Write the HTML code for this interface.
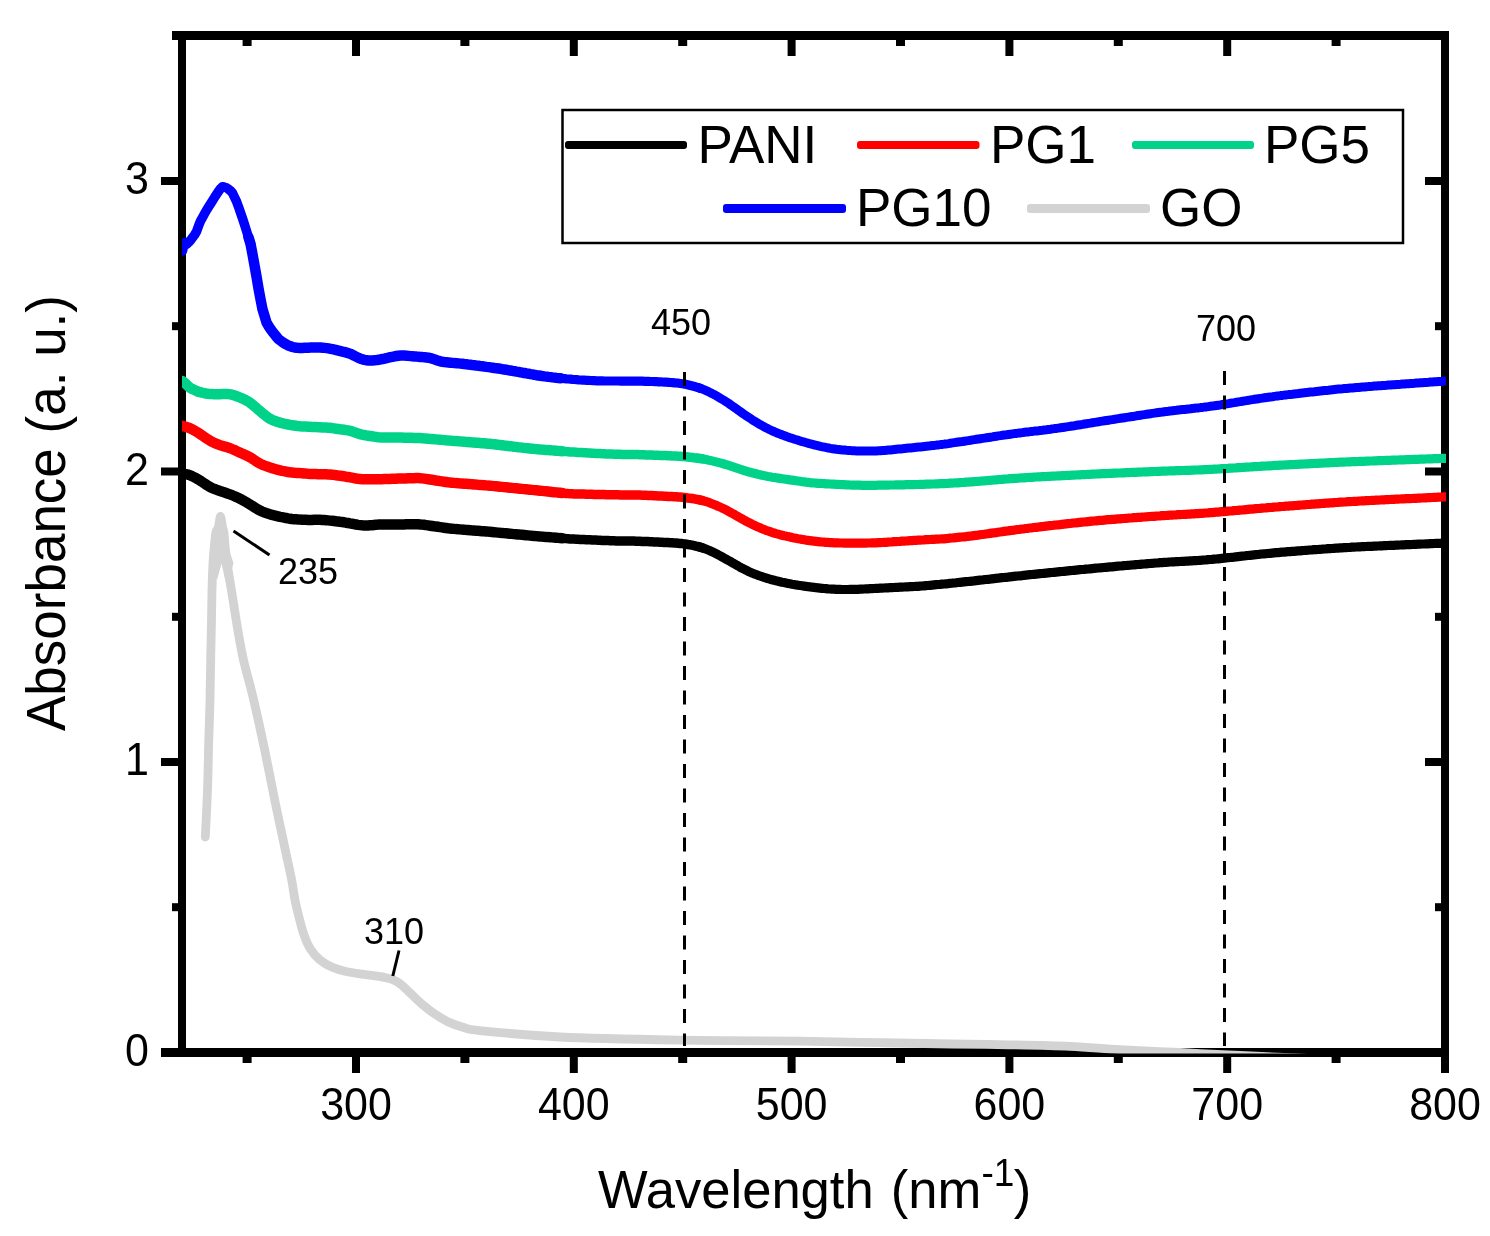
<!DOCTYPE html>
<html><head><meta charset="utf-8"><style>
html,body{margin:0;padding:0;background:#fff;}
svg{display:block;will-change:transform;}
text{font-family:"Liberation Sans",sans-serif;fill:#000;}
</style></head><body>
<svg width="1490" height="1236" viewBox="0 0 1490 1236">
<rect x="0" y="0" width="1490" height="1236" fill="#fff"/>
<defs><clipPath id="pc"><rect x="182" y="35.5" width="1264" height="1018"/></clipPath></defs>

<g fill="#000">
<rect x="172" y="31" width="1277" height="9"/>
<rect x="178" y="31" width="8" height="1026"/>
<rect x="161" y="1048" width="1288" height="9"/>
<rect x="1441" y="31" width="8" height="1042"/>
<rect x="161" y="758.0" width="17" height="8"/>
<rect x="1425" y="758.0" width="16" height="8"/>
<rect x="161" y="467.5" width="17" height="8"/>
<rect x="1425" y="467.5" width="16" height="8"/>
<rect x="161" y="177.0" width="17" height="8"/>
<rect x="1425" y="177.0" width="16" height="8"/>
<rect x="172" y="903.2" width="6" height="8"/>
<rect x="1435" y="903.2" width="6" height="8"/>
<rect x="172" y="612.8" width="6" height="8"/>
<rect x="1435" y="612.8" width="6" height="8"/>
<rect x="172" y="322.2" width="6" height="8"/>
<rect x="1435" y="322.2" width="6" height="8"/>
<rect x="352.0" y="1057" width="8" height="16"/>
<rect x="352.0" y="40" width="8" height="16"/>
<rect x="569.8" y="1057" width="8" height="16"/>
<rect x="569.8" y="40" width="8" height="16"/>
<rect x="787.6" y="1057" width="8" height="16"/>
<rect x="787.6" y="40" width="8" height="16"/>
<rect x="1005.4" y="1057" width="8" height="16"/>
<rect x="1005.4" y="40" width="8" height="16"/>
<rect x="1223.2" y="1057" width="8" height="16"/>
<rect x="1223.2" y="40" width="8" height="16"/>
<rect x="242.6" y="1057" width="9" height="6"/>
<rect x="242.6" y="40" width="9" height="6"/>
<rect x="460.4" y="1057" width="9" height="6"/>
<rect x="460.4" y="40" width="9" height="6"/>
<rect x="678.2" y="1057" width="9" height="6"/>
<rect x="678.2" y="40" width="9" height="6"/>
<rect x="896.0" y="1057" width="9" height="6"/>
<rect x="896.0" y="40" width="9" height="6"/>
<rect x="1113.8" y="1057" width="9" height="6"/>
<rect x="1113.8" y="40" width="9" height="6"/>
<rect x="1331.6" y="1057" width="9" height="6"/>
<rect x="1331.6" y="40" width="9" height="6"/>
</g>
<g clip-path="url(#pc)" fill="none" stroke-width="8.5" stroke-linejoin="round" stroke-linecap="round">
<path stroke="#d3d3d3" stroke-width="8.8" d="M205.3,837.0 C205.7,829.2 206.9,805.8 207.5,790.0 C208.1,774.2 208.3,757.0 208.7,742.0 C209.1,727.0 209.7,713.7 210.0,700.0 C210.3,686.3 210.4,673.3 210.7,660.0 C210.9,646.7 211.3,631.7 211.5,620.0 C211.7,608.3 211.8,599.5 212.0,590.0 C212.2,580.5 212.6,570.5 213.0,563.0 C213.4,555.5 214.0,550.2 214.5,545.0 C215.0,539.8 215.3,535.0 216.0,532.0 C216.7,529.0 217.8,529.6 218.5,527.0 C219.2,524.4 219.8,516.5 220.5,516.5 C221.2,516.5 221.9,524.2 222.5,527.0 C223.1,529.8 223.6,530.0 224.0,533.0 C224.4,536.0 224.5,540.0 225.0,545.0 C225.5,550.0 225.9,555.4 227.0,563.0 C228.1,570.6 229.7,579.5 231.5,590.5 C233.3,601.5 235.7,617.7 237.7,629.3 C239.7,640.9 240.8,648.2 243.5,660.0 C246.2,671.8 250.2,685.0 253.7,700.0 C257.2,715.0 261.2,733.3 264.7,750.0 C268.2,766.7 271.3,783.3 274.7,800.0 C278.1,816.7 282.5,836.7 285.3,850.0 C288.1,863.3 290.1,871.6 291.7,880.0 C293.3,888.4 293.8,894.2 295.1,900.6 C296.4,907.0 297.8,912.8 299.3,918.5 C300.8,924.2 302.2,930.0 304.0,935.0 C305.8,940.0 307.7,944.7 310.3,948.8 C312.9,952.9 316.2,956.7 319.9,959.8 C323.6,962.9 327.9,965.3 332.3,967.3 C336.7,969.2 341.0,970.4 346.0,971.5 C351.0,972.6 357.0,973.4 362.5,974.2 C368.0,975.0 373.9,975.4 379.0,976.3 C384.1,977.2 389.1,978.3 392.8,979.7 C396.5,981.1 398.0,982.2 401.0,984.5 C404.0,986.8 407.2,990.3 410.7,993.5 C414.1,996.7 417.8,1000.5 421.7,1003.8 C425.6,1007.1 429.6,1010.4 434.0,1013.4 C438.4,1016.4 443.0,1019.4 447.8,1021.7 C452.6,1024.0 457.6,1025.7 463.0,1027.2 C468.4,1028.7 463.8,1029.0 480.0,1030.6 C496.2,1032.2 526.7,1035.4 560.0,1037.0 C593.3,1038.6 640.0,1039.4 680.0,1040.1 C720.0,1040.8 766.7,1040.8 800.0,1041.2 C833.3,1041.6 854.6,1042.2 880.0,1042.7 C905.4,1043.2 931.0,1043.7 952.5,1044.0 C974.0,1044.3 989.3,1044.4 1008.9,1044.8 C1028.5,1045.2 1051.5,1045.6 1070.0,1046.4 C1088.5,1047.2 1101.7,1048.6 1120.0,1049.6 C1138.3,1050.6 1160.0,1051.5 1180.0,1052.5 C1200.0,1053.5 1220.3,1054.6 1240.0,1055.5 C1259.7,1056.4 1263.7,1056.6 1298.0,1058.0 C1332.3,1059.4 1421.3,1063.0 1446.0,1064.0"/>
<polygon fill="#d3d3d3" stroke="none" points="212.5,530 227.3,530 229,550 233.5,563 227,588 221.5,563.4 217,580 209.2,563 210.3,545"/>
<polyline stroke="#000000" stroke-width="10.5" points="182.0,473.5 184.0,473.8 186.0,474.2 188.0,474.6 190.0,475.2 192.0,476.1 194.0,477.1 196.0,478.2 198.0,479.3 200.0,480.5 202.0,481.8 204.0,483.2 206.0,484.5 208.0,485.8 210.0,487.0 212.0,488.0 214.0,488.8 216.0,489.5 218.0,490.3 220.0,491.0 222.0,491.6 224.0,492.3 226.0,493.0 228.0,493.7 230.0,494.4 232.0,495.2 234.0,496.0 236.0,496.9 238.0,497.8 240.0,498.8 242.0,499.8 244.0,500.9 246.0,502.1 248.0,503.3 250.0,504.5 252.0,505.7 254.0,507.0 256.0,508.3 258.0,509.5 260.0,510.5 262.0,511.5 264.0,512.3 266.0,513.0 268.0,513.6 270.0,514.3 272.0,514.8 274.0,515.3 276.0,515.8 278.0,516.3 280.0,516.8 282.0,517.2 284.0,517.6 286.0,518.0 288.0,518.4 290.0,518.7 292.0,519.0 294.0,519.2 296.0,519.3 298.0,519.4 300.0,519.6 302.0,519.7 304.0,519.8 306.0,519.8 308.0,519.9 310.0,519.9 312.0,519.9 314.0,519.8 316.0,519.8 318.0,519.7 320.0,519.8 322.0,519.9 324.0,520.0 326.0,520.2 328.0,520.4 330.0,520.6 332.0,520.8 334.0,521.0 336.0,521.3 338.0,521.5 340.0,521.8 342.0,522.0 344.0,522.3 346.0,522.7 348.0,523.0 350.0,523.4 352.0,523.7 354.0,524.1 356.0,524.5 358.0,524.9 360.0,525.1 362.0,525.3 364.0,525.4 366.0,525.4 368.0,525.4 370.0,525.3 372.0,525.2 374.0,525.0 376.0,524.8 378.0,524.6 380.0,524.5 382.0,524.4 384.0,524.4 386.0,524.4 388.0,524.4 390.0,524.4 392.0,524.4 394.0,524.4 396.0,524.4 398.0,524.4 400.0,524.4 402.0,524.4 404.0,524.4 406.0,524.3 408.0,524.3 410.0,524.3 412.0,524.3 414.0,524.3 416.0,524.3 418.0,524.3 420.0,524.4 422.0,524.6 424.0,524.8 426.0,525.1 428.0,525.4 430.0,525.7 432.0,526.0 434.0,526.3 436.0,526.5 438.0,526.8 440.0,527.1 442.0,527.4 444.0,527.7 446.0,528.0 448.0,528.3 450.0,528.5 452.0,528.7 454.0,528.9 456.0,529.1 458.0,529.2 460.0,529.4 462.0,529.6 464.0,529.7 466.0,529.9 468.0,530.0 470.0,530.2 472.0,530.4 474.0,530.5 476.0,530.7 478.0,530.8 480.0,531.0 482.0,531.2 484.0,531.3 486.0,531.5 488.0,531.6 490.0,531.8 492.0,532.0 494.0,532.2 496.0,532.4 498.0,532.6 500.0,532.8 502.0,532.9 504.0,533.1 506.0,533.3 508.0,533.5 510.0,533.7 512.0,533.9 514.0,534.1 516.0,534.3 518.0,534.5 520.0,534.6 522.0,534.8 524.0,535.0 526.0,535.2 528.0,535.4 530.0,535.6 532.0,535.8 534.0,535.9 536.0,536.1 538.0,536.3 540.0,536.4 542.0,536.6 544.0,536.8 546.0,536.9 548.0,537.1 550.0,537.2 552.0,537.4 554.0,537.6 556.0,537.7 558.0,537.9 560.0,538.1 562.0,538.2"/>
<polyline stroke="#000000" stroke-width="9.5" points="558.0,537.9 560.0,538.1 562.0,538.2 564.0,538.4 566.0,538.6 568.0,538.7 570.0,538.9 572.0,539.0 574.0,539.1 576.0,539.2 578.0,539.3 580.0,539.4 582.0,539.5 584.0,539.6 586.0,539.7 588.0,539.8 590.0,539.8 592.0,539.9 594.0,540.0 596.0,540.1 598.0,540.2 600.0,540.3 602.0,540.4 604.0,540.5 606.0,540.6 608.0,540.6 610.0,540.7 612.0,540.8 614.0,540.8 616.0,540.9 618.0,540.9 620.0,540.9 622.0,541.0 624.0,541.0 626.0,541.0 628.0,541.0 630.0,541.1 632.0,541.1 634.0,541.1 636.0,541.2 638.0,541.2 640.0,541.3 642.0,541.4 644.0,541.4 646.0,541.5 648.0,541.6 650.0,541.7 652.0,541.8 654.0,541.9 656.0,542.0 658.0,542.1 660.0,542.2 662.0,542.3 664.0,542.4 666.0,542.5 668.0,542.6 670.0,542.7 672.0,542.8 674.0,542.9 676.0,543.0 678.0,543.2 680.0,543.4 682.0,543.6 684.0,543.9 686.0,544.1 688.0,544.5 690.0,544.8 692.0,545.2 694.0,545.6 696.0,546.1 698.0,546.5 700.0,547.1 702.0,547.7"/>
<polyline stroke="#000000" stroke-width="9.2" points="698.0,546.5 700.0,547.1 702.0,547.7 704.0,548.4 706.0,549.1 708.0,549.9 710.0,550.8 712.0,551.7 714.0,552.7 716.0,553.7 718.0,554.7 720.0,555.8 722.0,556.9 724.0,558.0 726.0,559.1 728.0,560.2 730.0,561.3 732.0,562.5 734.0,563.6 736.0,564.8 738.0,565.9 740.0,567.1 742.0,568.2 744.0,569.2 746.0,570.2 748.0,571.2 750.0,572.1 752.0,573.0 754.0,573.8 756.0,574.5 758.0,575.3 760.0,576.0 762.0,576.7 764.0,577.3 766.0,578.0 768.0,578.6 770.0,579.2 772.0,579.7 774.0,580.2 776.0,580.8 778.0,581.2 780.0,581.7 782.0,582.2 784.0,582.6 786.0,583.0 788.0,583.4 790.0,583.8 792.0,584.2 794.0,584.5 796.0,584.9 798.0,585.2 800.0,585.5 802.0,585.8 804.0,586.1 806.0,586.4 808.0,586.7 810.0,586.9 812.0,587.2 814.0,587.4 816.0,587.7 818.0,587.9 820.0,588.1 822.0,588.3 824.0,588.5 826.0,588.7 828.0,588.9 830.0,589.0 832.0,589.1 834.0,589.2 836.0,589.3 838.0,589.4 840.0,589.4 842.0,589.5 844.0,589.5 846.0,589.5 848.0,589.5 850.0,589.4 852.0,589.4 854.0,589.4 856.0,589.3 858.0,589.3 860.0,589.2 862.0,589.1 864.0,589.0 866.0,588.9 868.0,588.8 870.0,588.7 872.0,588.6 874.0,588.5 876.0,588.4 878.0,588.3 880.0,588.2 882.0,588.1 884.0,588.0 886.0,587.9 888.0,587.8 890.0,587.7 892.0,587.6 894.0,587.5 896.0,587.4 898.0,587.3 900.0,587.2 902.0,587.1 904.0,587.0 906.0,586.9 908.0,586.8 910.0,586.7 912.0,586.6 914.0,586.5 916.0,586.4 918.0,586.3 920.0,586.1 922.0,586.0 924.0,585.8 926.0,585.6 928.0,585.5 930.0,585.3 932.0,585.1 934.0,584.9 936.0,584.7 938.0,584.5 940.0,584.4 942.0,584.2 944.0,584.0 946.0,583.8 948.0,583.6 950.0,583.3 952.0,583.2 954.0,583.0 956.0,582.8 958.0,582.5 960.0,582.3 962.0,582.1 964.0,581.9 966.0,581.7 968.0,581.5 970.0,581.3 972.0,581.1 974.0,580.9 976.0,580.6 978.0,580.4 980.0,580.2 982.0,580.0 984.0,579.7 986.0,579.5 988.0,579.3 990.0,579.1 992.0,578.8 994.0,578.6 996.0,578.4 998.0,578.2 1000.0,577.9 1002.0,577.7 1004.0,577.5 1006.0,577.3 1008.0,577.1 1010.0,576.8 1012.0,576.6 1014.0,576.4 1016.0,576.2 1018.0,576.0 1020.0,575.8 1022.0,575.6 1024.0,575.3 1026.0,575.1 1028.0,574.9 1030.0,574.7 1032.0,574.5 1034.0,574.3 1036.0,574.1 1038.0,573.9 1040.0,573.7 1042.0,573.5 1044.0,573.3 1046.0,573.1 1048.0,572.9 1050.0,572.7 1052.0,572.5 1054.0,572.3 1056.0,572.1 1058.0,571.9 1060.0,571.7 1062.0,571.5 1064.0,571.3 1066.0,571.1 1068.0,570.9 1070.0,570.7 1072.0,570.5 1074.0,570.3 1076.0,570.1 1078.0,569.9 1080.0,569.7 1082.0,569.5 1084.0,569.4 1086.0,569.2 1088.0,569.0 1090.0,568.8 1092.0,568.6 1094.0,568.4 1096.0,568.2 1098.0,568.0 1100.0,567.8 1102.0,567.7 1104.0,567.5 1106.0,567.3 1108.0,567.1 1110.0,566.9 1112.0,566.8 1114.0,566.6 1116.0,566.4 1118.0,566.2 1120.0,566.0 1122.0,565.9 1124.0,565.7 1126.0,565.5 1128.0,565.3 1130.0,565.2 1132.0,565.0 1134.0,564.8 1136.0,564.6 1138.0,564.5 1140.0,564.3 1142.0,564.1 1144.0,564.0 1146.0,563.8 1148.0,563.6 1150.0,563.5 1152.0,563.3 1154.0,563.2 1156.0,563.0 1158.0,562.9 1160.0,562.7 1162.0,562.6 1164.0,562.4 1166.0,562.3 1168.0,562.2 1170.0,562.0 1172.0,561.9 1174.0,561.8 1176.0,561.7 1178.0,561.6 1180.0,561.5 1182.0,561.4 1184.0,561.3 1186.0,561.2 1188.0,561.1 1190.0,560.9 1192.0,560.8 1194.0,560.7 1196.0,560.6 1198.0,560.5 1200.0,560.3 1202.0,560.2 1204.0,560.0 1206.0,559.9 1208.0,559.7 1210.0,559.5 1212.0,559.4 1214.0,559.2 1216.0,559.0 1218.0,558.8 1220.0,558.6 1222.0,558.4 1224.0,558.2 1226.0,557.9 1228.0,557.7 1230.0,557.5 1232.0,557.3 1234.0,557.1 1236.0,556.8 1238.0,556.6 1240.0,556.4 1242.0,556.2 1244.0,556.0 1246.0,555.7 1248.0,555.5 1250.0,555.3 1252.0,555.1 1254.0,554.9 1256.0,554.7 1258.0,554.5 1260.0,554.2 1262.0,554.0 1264.0,553.8 1266.0,553.7 1268.0,553.5 1270.0,553.3 1272.0,553.1 1274.0,552.9 1276.0,552.7 1278.0,552.6 1280.0,552.4 1282.0,552.2 1284.0,552.1 1286.0,551.9 1288.0,551.7 1290.0,551.6 1292.0,551.4 1294.0,551.3 1296.0,551.1 1298.0,550.9 1300.0,550.8 1302.0,550.6 1304.0,550.5 1306.0,550.3 1308.0,550.2 1310.0,550.0 1312.0,549.9 1314.0,549.7 1316.0,549.6 1318.0,549.5 1320.0,549.3 1322.0,549.2 1324.0,549.0 1326.0,548.9 1328.0,548.7 1330.0,548.6 1332.0,548.5 1334.0,548.3 1336.0,548.2 1338.0,548.1 1340.0,547.9 1342.0,547.8 1344.0,547.7 1346.0,547.6 1348.0,547.5 1350.0,547.4 1352.0,547.2 1354.0,547.1 1356.0,547.0 1358.0,546.9 1360.0,546.8 1362.0,546.7 1364.0,546.6 1366.0,546.5 1368.0,546.4 1370.0,546.3 1372.0,546.3 1374.0,546.2 1376.0,546.1 1378.0,546.0 1380.0,545.9 1382.0,545.8 1384.0,545.7 1386.0,545.6 1388.0,545.5 1390.0,545.4 1392.0,545.4 1394.0,545.3 1396.0,545.2 1398.0,545.1 1400.0,545.0 1402.0,544.9 1404.0,544.8 1406.0,544.7 1408.0,544.7 1410.0,544.6 1412.0,544.5 1414.0,544.4 1416.0,544.3 1418.0,544.2 1420.0,544.1 1422.0,544.0 1424.0,544.0 1426.0,543.9 1428.0,543.8 1430.0,543.7 1432.0,543.6 1434.0,543.5 1436.0,543.4 1438.0,543.3 1440.0,543.3 1442.0,543.2 1444.0,543.1 1446.0,543.0"/>
<polyline stroke="#ff0000" stroke-width="10.5" points="182.0,426.0 184.0,426.4 186.0,426.9 188.0,427.5 190.0,428.2 192.0,429.2 194.0,430.3 196.0,431.5 198.0,432.6 200.0,434.0 202.0,435.3 204.0,436.7 206.0,438.1 208.0,439.4 210.0,440.7 212.0,441.8 214.0,442.7 216.0,443.6 218.0,444.4 220.0,445.2 222.0,445.8 224.0,446.4 226.0,446.9 228.0,447.5 230.0,448.2 232.0,449.0 234.0,449.8 236.0,450.8 238.0,451.7 240.0,452.6 242.0,453.5 244.0,454.4 246.0,455.3 248.0,456.3 250.0,457.3 252.0,458.5 254.0,459.8 256.0,461.2 258.0,462.4 260.0,463.6 262.0,464.6 264.0,465.4 266.0,466.1 268.0,466.8 270.0,467.5 272.0,468.1 274.0,468.7 276.0,469.3 278.0,469.8 280.0,470.3 282.0,470.8 284.0,471.2 286.0,471.6 288.0,472.0 290.0,472.3 292.0,472.6 294.0,472.7 296.0,472.9 298.0,473.0 300.0,473.1 302.0,473.3 304.0,473.5 306.0,473.6 308.0,473.8 310.0,473.9 312.0,474.0 314.0,474.1 316.0,474.1 318.0,474.2 320.0,474.2 322.0,474.2 324.0,474.3 326.0,474.3 328.0,474.4 330.0,474.5 332.0,474.7 334.0,474.9 336.0,475.2 338.0,475.5 340.0,475.7 342.0,476.0 344.0,476.3 346.0,476.7 348.0,477.0 350.0,477.3 352.0,477.7 354.0,478.1 356.0,478.5 358.0,478.8 360.0,479.1 362.0,479.2 364.0,479.3 366.0,479.3 368.0,479.3 370.0,479.3 372.0,479.3 374.0,479.3 376.0,479.3 378.0,479.3 380.0,479.3 382.0,479.2 384.0,479.1 386.0,479.1 388.0,479.0 390.0,478.9 392.0,478.8 394.0,478.7 396.0,478.7 398.0,478.6 400.0,478.5 402.0,478.5 404.0,478.4 406.0,478.4 408.0,478.3 410.0,478.3 412.0,478.2 414.0,478.2 416.0,478.1 418.0,478.1 420.0,478.2 422.0,478.4 424.0,478.6 426.0,478.9 428.0,479.2 430.0,479.5 432.0,479.8 434.0,480.1 436.0,480.5 438.0,480.8 440.0,481.1 442.0,481.4 444.0,481.7 446.0,482.0 448.0,482.3 450.0,482.5 452.0,482.7 454.0,482.9 456.0,483.1 458.0,483.2 460.0,483.4 462.0,483.5 464.0,483.7 466.0,483.8 468.0,484.0 470.0,484.1 472.0,484.3 474.0,484.5 476.0,484.6 478.0,484.8 480.0,484.9 482.0,485.1 484.0,485.2 486.0,485.4 488.0,485.6 490.0,485.7 492.0,485.9 494.0,486.1 496.0,486.3 498.0,486.5 500.0,486.7 502.0,486.9 504.0,487.1 506.0,487.3 508.0,487.5 510.0,487.7 512.0,487.9 514.0,488.1 516.0,488.3 518.0,488.5 520.0,488.7 522.0,488.9 524.0,489.1 526.0,489.3 528.0,489.5 530.0,489.7 532.0,489.9 534.0,490.1 536.0,490.3 538.0,490.5 540.0,490.7 542.0,490.9 544.0,491.1 546.0,491.3 548.0,491.5 550.0,491.7 552.0,492.0 554.0,492.2 556.0,492.4 558.0,492.6 560.0,492.8 562.0,493.0"/>
<polyline stroke="#ff0000" stroke-width="9.5" points="558.0,492.6 560.0,492.8 562.0,493.0 564.0,493.2 566.0,493.4 568.0,493.6 570.0,493.7 572.0,493.8 574.0,493.9 576.0,493.9 578.0,494.0 580.0,494.0 582.0,494.1 584.0,494.1 586.0,494.2 588.0,494.2 590.0,494.3 592.0,494.3 594.0,494.4 596.0,494.4 598.0,494.5 600.0,494.5 602.0,494.6 604.0,494.6 606.0,494.7 608.0,494.7 610.0,494.7 612.0,494.8 614.0,494.8 616.0,494.8 618.0,494.8 620.0,494.9 622.0,494.9 624.0,494.9 626.0,494.9 628.0,494.9 630.0,494.9 632.0,495.0 634.0,495.0 636.0,495.0 638.0,495.1 640.0,495.1 642.0,495.2 644.0,495.2 646.0,495.3 648.0,495.4 650.0,495.5 652.0,495.6 654.0,495.7 656.0,495.8 658.0,495.9 660.0,496.0 662.0,496.1 664.0,496.2 666.0,496.3 668.0,496.4 670.0,496.5 672.0,496.6 674.0,496.7 676.0,496.8 678.0,497.0 680.0,497.1 682.0,497.3 684.0,497.5 686.0,497.7 688.0,498.0 690.0,498.2 692.0,498.5 694.0,498.8 696.0,499.2 698.0,499.5 700.0,500.0 702.0,500.4"/>
<polyline stroke="#ff0000" stroke-width="9.2" points="698.0,499.5 700.0,500.0 702.0,500.4 704.0,501.0 706.0,501.5 708.0,502.2 710.0,502.9 712.0,503.7 714.0,504.5 716.0,505.3 718.0,506.2 720.0,507.0 722.0,508.0 724.0,508.9 726.0,509.9 728.0,511.0 730.0,512.1 732.0,513.2 734.0,514.3 736.0,515.5 738.0,516.6 740.0,517.8 742.0,518.9 744.0,520.0 746.0,521.1 748.0,522.2 750.0,523.2 752.0,524.2 754.0,525.1 756.0,526.1 758.0,527.0 760.0,527.8 762.0,528.7 764.0,529.5 766.0,530.3 768.0,531.0 770.0,531.7 772.0,532.4 774.0,533.0 776.0,533.6 778.0,534.1 780.0,534.7 782.0,535.2 784.0,535.7 786.0,536.1 788.0,536.6 790.0,537.0 792.0,537.5 794.0,537.9 796.0,538.3 798.0,538.7 800.0,539.0 802.0,539.4 804.0,539.7 806.0,540.1 808.0,540.4 810.0,540.7 812.0,540.9 814.0,541.2 816.0,541.4 818.0,541.6 820.0,541.8 822.0,542.0 824.0,542.1 826.0,542.3 828.0,542.4 830.0,542.6 832.0,542.7 834.0,542.8 836.0,542.9 838.0,542.9 840.0,543.0 842.0,543.0 844.0,543.1 846.0,543.1 848.0,543.1 850.0,543.2 852.0,543.2 854.0,543.2 856.0,543.2 858.0,543.2 860.0,543.2 862.0,543.1 864.0,543.1 866.0,543.1 868.0,543.0 870.0,543.0 872.0,542.9 874.0,542.9 876.0,542.8 878.0,542.7 880.0,542.6 882.0,542.5 884.0,542.4 886.0,542.3 888.0,542.1 890.0,542.0 892.0,541.9 894.0,541.7 896.0,541.6 898.0,541.5 900.0,541.4 902.0,541.2 904.0,541.1 906.0,541.0 908.0,540.8 910.0,540.7 912.0,540.6 914.0,540.4 916.0,540.3 918.0,540.2 920.0,540.1 922.0,540.0 924.0,539.9 926.0,539.7 928.0,539.6 930.0,539.5 932.0,539.4 934.0,539.3 936.0,539.2 938.0,539.1 940.0,539.0 942.0,538.9 944.0,538.8 946.0,538.6 948.0,538.5 950.0,538.1 952.0,538.0 954.0,537.8 956.0,537.6 958.0,537.4 960.0,537.2 962.0,537.0 964.0,536.8 966.0,536.6 968.0,536.3 970.0,536.1 972.0,535.9 974.0,535.6 976.0,535.3 978.0,535.1 980.0,534.8 982.0,534.5 984.0,534.3 986.0,534.0 988.0,533.7 990.0,533.4 992.0,533.1 994.0,532.8 996.0,532.6 998.0,532.3 1000.0,532.0 1002.0,531.7 1004.0,531.4 1006.0,531.1 1008.0,530.9 1010.0,530.6 1012.0,530.3 1014.0,530.1 1016.0,529.8 1018.0,529.5 1020.0,529.3 1022.0,529.0 1024.0,528.8 1026.0,528.5 1028.0,528.3 1030.0,528.0 1032.0,527.8 1034.0,527.5 1036.0,527.3 1038.0,527.1 1040.0,526.8 1042.0,526.6 1044.0,526.4 1046.0,526.1 1048.0,525.9 1050.0,525.7 1052.0,525.5 1054.0,525.2 1056.0,525.0 1058.0,524.8 1060.0,524.6 1062.0,524.3 1064.0,524.1 1066.0,523.9 1068.0,523.7 1070.0,523.5 1072.0,523.2 1074.0,523.0 1076.0,522.8 1078.0,522.6 1080.0,522.4 1082.0,522.2 1084.0,522.0 1086.0,521.8 1088.0,521.6 1090.0,521.4 1092.0,521.2 1094.0,521.0 1096.0,520.8 1098.0,520.6 1100.0,520.4 1102.0,520.3 1104.0,520.1 1106.0,519.9 1108.0,519.7 1110.0,519.6 1112.0,519.4 1114.0,519.3 1116.0,519.1 1118.0,518.9 1120.0,518.8 1122.0,518.6 1124.0,518.5 1126.0,518.3 1128.0,518.2 1130.0,518.0 1132.0,517.9 1134.0,517.7 1136.0,517.6 1138.0,517.4 1140.0,517.3 1142.0,517.1 1144.0,517.0 1146.0,516.8 1148.0,516.7 1150.0,516.5 1152.0,516.4 1154.0,516.3 1156.0,516.1 1158.0,516.0 1160.0,515.9 1162.0,515.7 1164.0,515.6 1166.0,515.5 1168.0,515.3 1170.0,515.2 1172.0,515.1 1174.0,515.0 1176.0,514.9 1178.0,514.7 1180.0,514.6 1182.0,514.5 1184.0,514.4 1186.0,514.3 1188.0,514.2 1190.0,514.1 1192.0,513.9 1194.0,513.8 1196.0,513.7 1198.0,513.6 1200.0,513.4 1202.0,513.3 1204.0,513.2 1206.0,513.0 1208.0,512.9 1210.0,512.7 1212.0,512.6 1214.0,512.4 1216.0,512.2 1218.0,512.1 1220.0,511.9 1222.0,511.7 1224.0,511.6 1226.0,511.4 1228.0,511.2 1230.0,511.0 1232.0,510.9 1234.0,510.7 1236.0,510.5 1238.0,510.3 1240.0,510.1 1242.0,510.0 1244.0,509.8 1246.0,509.6 1248.0,509.4 1250.0,509.2 1252.0,509.1 1254.0,508.9 1256.0,508.7 1258.0,508.5 1260.0,508.4 1262.0,508.2 1264.0,508.0 1266.0,507.9 1268.0,507.7 1270.0,507.5 1272.0,507.4 1274.0,507.2 1276.0,507.0 1278.0,506.9 1280.0,506.7 1282.0,506.5 1284.0,506.4 1286.0,506.2 1288.0,506.1 1290.0,505.9 1292.0,505.8 1294.0,505.6 1296.0,505.5 1298.0,505.3 1300.0,505.1 1302.0,505.0 1304.0,504.8 1306.0,504.7 1308.0,504.5 1310.0,504.4 1312.0,504.2 1314.0,504.1 1316.0,503.9 1318.0,503.8 1320.0,503.6 1322.0,503.5 1324.0,503.3 1326.0,503.2 1328.0,503.1 1330.0,502.9 1332.0,502.8 1334.0,502.6 1336.0,502.5 1338.0,502.4 1340.0,502.2 1342.0,502.1 1344.0,502.0 1346.0,501.9 1348.0,501.7 1350.0,501.6 1352.0,501.5 1354.0,501.4 1356.0,501.3 1358.0,501.2 1360.0,501.0 1362.0,500.9 1364.0,500.8 1366.0,500.7 1368.0,500.6 1370.0,500.5 1372.0,500.4 1374.0,500.3 1376.0,500.2 1378.0,500.1 1380.0,500.0 1382.0,499.9 1384.0,499.8 1386.0,499.7 1388.0,499.6 1390.0,499.5 1392.0,499.4 1394.0,499.3 1396.0,499.2 1398.0,499.1 1400.0,499.0 1402.0,498.9 1404.0,498.8 1406.0,498.7 1408.0,498.6 1410.0,498.6 1412.0,498.5 1414.0,498.4 1416.0,498.3 1418.0,498.2 1420.0,498.1 1422.0,498.0 1424.0,497.9 1426.0,497.8 1428.0,497.7 1430.0,497.6 1432.0,497.5 1434.0,497.4 1436.0,497.3 1438.0,497.2 1440.0,497.1 1442.0,497.0 1444.0,496.9 1446.0,496.8"/>
<polyline stroke="#00d28a" stroke-width="10.5" points="182.0,380.9 184.0,382.3 186.0,384.0 188.0,386.0 190.0,387.7 192.0,388.9 194.0,389.8 196.0,390.7 198.0,391.6 200.0,392.2 202.0,392.7 204.0,393.1 206.0,393.5 208.0,393.8 210.0,394.0 212.0,394.1 214.0,394.2 216.0,394.2 218.0,394.2 220.0,394.2 222.0,394.1 224.0,394.0 226.0,394.0 228.0,394.1 230.0,394.3 232.0,394.7 234.0,395.3 236.0,396.0 238.0,396.7 240.0,397.5 242.0,398.4 244.0,399.3 246.0,400.3 248.0,401.4 250.0,402.7 252.0,404.2 254.0,405.9 256.0,407.6 258.0,409.4 260.0,411.1 262.0,412.8 264.0,414.4 266.0,416.0 268.0,417.5 270.0,418.8 272.0,419.8 274.0,420.6 276.0,421.4 278.0,422.0 280.0,422.6 282.0,423.2 284.0,423.7 286.0,424.1 288.0,424.5 290.0,424.9 292.0,425.2 294.0,425.5 296.0,425.8 298.0,426.1 300.0,426.3 302.0,426.4 304.0,426.5 306.0,426.6 308.0,426.7 310.0,426.8 312.0,426.9 314.0,427.0 316.0,427.1 318.0,427.2 320.0,427.3 322.0,427.4 324.0,427.5 326.0,427.6 328.0,427.7 330.0,427.8 332.0,428.1 334.0,428.4 336.0,428.7 338.0,429.0 340.0,429.3 342.0,429.5 344.0,429.8 346.0,430.1 348.0,430.4 350.0,430.8 352.0,431.4 354.0,432.1 356.0,432.8 358.0,433.5 360.0,434.1 362.0,434.6 364.0,435.0 366.0,435.4 368.0,435.7 370.0,436.0 372.0,436.3 374.0,436.6 376.0,436.9 378.0,437.2 380.0,437.4 382.0,437.5 384.0,437.6 386.0,437.6 388.0,437.6 390.0,437.6 392.0,437.6 394.0,437.6 396.0,437.6 398.0,437.6 400.0,437.6 402.0,437.6 404.0,437.7 406.0,437.7 408.0,437.8 410.0,437.8 412.0,437.8 414.0,437.9 416.0,437.9 418.0,438.0 420.0,438.1 422.0,438.2 424.0,438.4 426.0,438.5 428.0,438.7 430.0,438.9 432.0,439.0 434.0,439.2 436.0,439.4 438.0,439.6 440.0,439.7 442.0,439.9 444.0,440.1 446.0,440.3 448.0,440.4 450.0,440.6 452.0,440.8 454.0,440.9 456.0,441.1 458.0,441.2 460.0,441.4 462.0,441.6 464.0,441.7 466.0,441.9 468.0,442.0 470.0,442.2 472.0,442.4 474.0,442.5 476.0,442.7 478.0,442.8 480.0,443.0 482.0,443.2 484.0,443.3 486.0,443.5 488.0,443.7 490.0,443.8 492.0,444.1 494.0,444.3 496.0,444.5 498.0,444.8 500.0,445.0 502.0,445.2 504.0,445.5 506.0,445.7 508.0,446.0 510.0,446.2 512.0,446.4 514.0,446.7 516.0,446.9 518.0,447.2 520.0,447.4 522.0,447.6 524.0,447.9 526.0,448.1 528.0,448.3 530.0,448.6 532.0,448.7 534.0,448.9 536.0,449.1 538.0,449.3 540.0,449.4 542.0,449.6 544.0,449.8 546.0,449.9 548.0,450.1 550.0,450.2 552.0,450.4 554.0,450.6 556.0,450.7 558.0,450.9 560.0,451.1 562.0,451.2"/>
<polyline stroke="#00d28a" stroke-width="9.5" points="558.0,450.9 560.0,451.1 562.0,451.2 564.0,451.4 566.0,451.6 568.0,451.7 570.0,451.9 572.0,452.0 574.0,452.1 576.0,452.2 578.0,452.4 580.0,452.5 582.0,452.6 584.0,452.7 586.0,452.8 588.0,452.9 590.0,453.0 592.0,453.2 594.0,453.3 596.0,453.4 598.0,453.5 600.0,453.6 602.0,453.7 604.0,453.8 606.0,453.9 608.0,454.0 610.0,454.1 612.0,454.1 614.0,454.2 616.0,454.2 618.0,454.3 620.0,454.3 622.0,454.4 624.0,454.4 626.0,454.4 628.0,454.4 630.0,454.5 632.0,454.5 634.0,454.5 636.0,454.6 638.0,454.6 640.0,454.7 642.0,454.7 644.0,454.8 646.0,454.9 648.0,454.9 650.0,455.0 652.0,455.1 654.0,455.2 656.0,455.2 658.0,455.3 660.0,455.4 662.0,455.5 664.0,455.5 666.0,455.6 668.0,455.7 670.0,455.8 672.0,455.9 674.0,456.0 676.0,456.1 678.0,456.2 680.0,456.3 682.0,456.5 684.0,456.6 686.0,456.8 688.0,457.0 690.0,457.2 692.0,457.4 694.0,457.7 696.0,457.9 698.0,458.2 700.0,458.5 702.0,458.8"/>
<polyline stroke="#00d28a" stroke-width="9.2" points="698.0,458.2 700.0,458.5 702.0,458.8 704.0,459.2 706.0,459.6 708.0,460.0 710.0,460.4 712.0,460.9 714.0,461.4 716.0,461.9 718.0,462.4 720.0,462.9 722.0,463.4 724.0,464.0 726.0,464.6 728.0,465.2 730.0,465.8 732.0,466.5 734.0,467.2 736.0,467.8 738.0,468.5 740.0,469.2 742.0,469.8 744.0,470.5 746.0,471.1 748.0,471.7 750.0,472.2 752.0,472.8 754.0,473.3 756.0,473.8 758.0,474.3 760.0,474.7 762.0,475.2 764.0,475.6 766.0,476.1 768.0,476.5 770.0,476.8 772.0,477.2 774.0,477.5 776.0,477.8 778.0,478.1 780.0,478.4 782.0,478.7 784.0,479.0 786.0,479.3 788.0,479.6 790.0,479.9 792.0,480.2 794.0,480.4 796.0,480.7 798.0,481.0 800.0,481.3 802.0,481.6 804.0,481.8 806.0,482.1 808.0,482.3 810.0,482.6 812.0,482.8 814.0,483.0 816.0,483.1 818.0,483.3 820.0,483.4 822.0,483.5 824.0,483.6 826.0,483.8 828.0,483.9 830.0,484.0 832.0,484.1 834.0,484.2 836.0,484.3 838.0,484.4 840.0,484.5 842.0,484.6 844.0,484.7 846.0,484.8 848.0,484.9 850.0,485.0 852.0,485.1 854.0,485.1 856.0,485.2 858.0,485.2 860.0,485.2 862.0,485.3 864.0,485.3 866.0,485.3 868.0,485.3 870.0,485.3 872.0,485.3 874.0,485.3 876.0,485.3 878.0,485.2 880.0,485.2 882.0,485.2 884.0,485.1 886.0,485.1 888.0,485.1 890.0,485.0 892.0,485.0 894.0,485.0 896.0,484.9 898.0,484.9 900.0,484.9 902.0,484.8 904.0,484.8 906.0,484.7 908.0,484.7 910.0,484.7 912.0,484.6 914.0,484.6 916.0,484.5 918.0,484.5 920.0,484.4 922.0,484.4 924.0,484.3 926.0,484.2 928.0,484.2 930.0,484.1 932.0,484.0 934.0,484.0 936.0,483.9 938.0,483.8 940.0,483.7 942.0,483.7 944.0,483.6 946.0,483.5 948.0,483.4 950.0,483.2 952.0,483.1 954.0,483.0 956.0,482.9 958.0,482.8 960.0,482.6 962.0,482.5 964.0,482.4 966.0,482.2 968.0,482.1 970.0,481.9 972.0,481.8 974.0,481.6 976.0,481.5 978.0,481.3 980.0,481.2 982.0,481.0 984.0,480.8 986.0,480.7 988.0,480.5 990.0,480.3 992.0,480.2 994.0,480.0 996.0,479.8 998.0,479.7 1000.0,479.5 1002.0,479.4 1004.0,479.2 1006.0,479.0 1008.0,478.9 1010.0,478.7 1012.0,478.6 1014.0,478.4 1016.0,478.3 1018.0,478.2 1020.0,478.0 1022.0,477.9 1024.0,477.8 1026.0,477.6 1028.0,477.5 1030.0,477.4 1032.0,477.3 1034.0,477.1 1036.0,477.0 1038.0,476.9 1040.0,476.8 1042.0,476.7 1044.0,476.6 1046.0,476.5 1048.0,476.4 1050.0,476.3 1052.0,476.2 1054.0,476.1 1056.0,476.0 1058.0,475.9 1060.0,475.8 1062.0,475.7 1064.0,475.6 1066.0,475.5 1068.0,475.4 1070.0,475.3 1072.0,475.2 1074.0,475.1 1076.0,475.0 1078.0,474.9 1080.0,474.8 1082.0,474.7 1084.0,474.6 1086.0,474.5 1088.0,474.4 1090.0,474.3 1092.0,474.2 1094.0,474.1 1096.0,474.0 1098.0,473.9 1100.0,473.8 1102.0,473.7 1104.0,473.7 1106.0,473.6 1108.0,473.5 1110.0,473.4 1112.0,473.3 1114.0,473.2 1116.0,473.1 1118.0,473.0 1120.0,473.0 1122.0,472.9 1124.0,472.8 1126.0,472.7 1128.0,472.6 1130.0,472.5 1132.0,472.4 1134.0,472.4 1136.0,472.3 1138.0,472.2 1140.0,472.1 1142.0,472.0 1144.0,471.9 1146.0,471.9 1148.0,471.8 1150.0,471.7 1152.0,471.6 1154.0,471.5 1156.0,471.5 1158.0,471.4 1160.0,471.3 1162.0,471.2 1164.0,471.2 1166.0,471.1 1168.0,471.0 1170.0,470.9 1172.0,470.9 1174.0,470.8 1176.0,470.7 1178.0,470.7 1180.0,470.6 1182.0,470.5 1184.0,470.5 1186.0,470.4 1188.0,470.3 1190.0,470.3 1192.0,470.2 1194.0,470.1 1196.0,470.0 1198.0,470.0 1200.0,469.9 1202.0,469.8 1204.0,469.7 1206.0,469.6 1208.0,469.5 1210.0,469.4 1212.0,469.3 1214.0,469.2 1216.0,469.1 1218.0,469.0 1220.0,468.8 1222.0,468.7 1224.0,468.6 1226.0,468.5 1228.0,468.4 1230.0,468.2 1232.0,468.1 1234.0,468.0 1236.0,467.9 1238.0,467.7 1240.0,467.6 1242.0,467.5 1244.0,467.3 1246.0,467.2 1248.0,467.1 1250.0,467.0 1252.0,466.8 1254.0,466.7 1256.0,466.6 1258.0,466.5 1260.0,466.4 1262.0,466.2 1264.0,466.1 1266.0,466.0 1268.0,465.9 1270.0,465.8 1272.0,465.7 1274.0,465.5 1276.0,465.4 1278.0,465.3 1280.0,465.2 1282.0,465.1 1284.0,465.0 1286.0,464.9 1288.0,464.8 1290.0,464.7 1292.0,464.6 1294.0,464.5 1296.0,464.4 1298.0,464.3 1300.0,464.2 1302.0,464.1 1304.0,464.0 1306.0,463.9 1308.0,463.8 1310.0,463.7 1312.0,463.6 1314.0,463.5 1316.0,463.4 1318.0,463.3 1320.0,463.2 1322.0,463.1 1324.0,463.0 1326.0,462.9 1328.0,462.8 1330.0,462.7 1332.0,462.6 1334.0,462.5 1336.0,462.4 1338.0,462.3 1340.0,462.2 1342.0,462.1 1344.0,462.1 1346.0,462.0 1348.0,461.9 1350.0,461.8 1352.0,461.7 1354.0,461.6 1356.0,461.6 1358.0,461.5 1360.0,461.4 1362.0,461.3 1364.0,461.3 1366.0,461.2 1368.0,461.1 1370.0,461.0 1372.0,461.0 1374.0,460.9 1376.0,460.8 1378.0,460.7 1380.0,460.7 1382.0,460.6 1384.0,460.5 1386.0,460.4 1388.0,460.4 1390.0,460.3 1392.0,460.2 1394.0,460.2 1396.0,460.1 1398.0,460.0 1400.0,459.9 1402.0,459.9 1404.0,459.8 1406.0,459.7 1408.0,459.7 1410.0,459.6 1412.0,459.5 1414.0,459.4 1416.0,459.4 1418.0,459.3 1420.0,459.2 1422.0,459.2 1424.0,459.1 1426.0,459.0 1428.0,458.9 1430.0,458.9 1432.0,458.8 1434.0,458.7 1436.0,458.7 1438.0,458.6 1440.0,458.5 1442.0,458.4 1444.0,458.4 1446.0,458.3"/>
<polyline stroke="#0000ff" stroke-width="9.5" points="182.5,251.0 184.5,242.6 186.5,244.5 188.5,242.5 190.5,240.3 192.5,237.7 194.5,235.0 196.5,231.6 198.5,226.1 200.5,221.1 202.5,217.4 204.5,213.8 206.5,210.2 208.5,207.0 210.5,203.9 212.5,200.7 214.5,197.5 216.5,194.4 218.5,191.3 220.5,188.6 222.5,186.7 224.5,187.2 226.5,187.8 228.5,189.2 230.5,190.8 232.5,193.0 234.5,197.2 236.5,201.4 238.5,206.8 240.5,212.6 242.5,218.4 244.5,224.4 246.5,230.8 248.5,237.3 250.5,243.8"/>
<polyline stroke="#0000ff" stroke-width="10.5" points="248.5,237.3 250.5,243.8 252.5,254.3 254.5,265.3 256.5,276.5 258.5,288.3 260.5,299.1 262.5,309.2 264.5,315.8 266.5,322.4 268.5,326.0 270.5,328.9 272.5,331.7 274.5,334.2 276.5,336.8 278.5,339.1 280.5,340.6 282.5,342.1 284.5,343.5 286.5,344.5 288.5,345.6 290.5,346.3 292.5,347.0 294.5,347.5 296.5,347.7 298.5,347.9 300.5,347.9 302.5,347.9 304.5,347.8 306.5,347.8 308.5,347.7 310.5,347.6 312.5,347.5 314.5,347.4 316.5,347.4 318.5,347.4 320.5,347.5 322.5,347.7 324.5,347.9 326.5,348.1 328.5,348.4 330.5,348.8 332.5,349.2 334.5,349.6 336.5,350.1 338.5,350.6 340.5,351.1 342.5,351.6 344.5,352.0 346.5,352.6 348.5,353.2 350.5,353.9 352.5,354.8 354.5,355.9 356.5,356.9 358.5,357.9 360.5,358.7 362.5,359.4 364.5,359.9 366.5,360.2 368.5,360.5 370.5,360.6 372.5,360.5 374.5,360.3 376.5,360.1 378.5,359.8 380.5,359.4 382.5,359.0 384.5,358.6 386.5,358.1 388.5,357.7 390.5,357.2 392.5,356.8 394.5,356.4 396.5,356.0 398.5,355.7 400.5,355.5 402.5,355.5 404.5,355.6 406.5,355.7 408.5,355.9 410.5,356.1 412.5,356.3 414.5,356.5 416.5,356.6 418.5,356.8 420.5,357.0 422.5,357.1 424.5,357.3 426.5,357.5 428.5,357.7 430.5,358.1 432.5,358.7 434.5,359.4 436.5,360.2 438.5,360.8 440.5,361.4 442.5,361.8 444.5,362.1 446.5,362.3 448.5,362.5 450.5,362.7 452.5,362.9 454.5,363.1 456.5,363.2 458.5,363.4 460.5,363.6 462.5,363.8 464.5,364.1 466.5,364.3 468.5,364.6 470.5,364.8 472.5,365.1 474.5,365.3 476.5,365.6 478.5,365.8 480.5,366.1 482.5,366.3 484.5,366.6 486.5,366.9 488.5,367.1 490.5,367.4 492.5,367.7 494.5,368.0 496.5,368.2 498.5,368.5 500.5,368.8 502.5,369.2 504.5,369.5 506.5,369.8 508.5,370.2 510.5,370.5 512.5,370.9 514.5,371.2 516.5,371.6 518.5,371.9 520.5,372.3 522.5,372.7 524.5,373.0 526.5,373.4 528.5,373.7 530.5,374.1 532.5,374.4 534.5,374.8 536.5,375.2 538.5,375.5 540.5,375.8 542.5,376.1 544.5,376.4 546.5,376.6 548.5,376.9 550.5,377.1 552.5,377.4 554.5,377.6 556.5,377.9 558.5,378.1 560.5,378.3"/>
<polyline stroke="#0000ff" stroke-width="9.2" points="558.5,378.1 560.5,378.3 562.5,378.5 564.5,378.7 566.5,378.9 568.5,379.0 570.5,379.2 572.5,379.4 574.5,379.5 576.5,379.7 578.5,379.9 580.5,380.0 582.5,380.1 584.5,380.2 586.5,380.3 588.5,380.4 590.5,380.5 592.5,380.6 594.5,380.7 596.5,380.8 598.5,380.9 600.5,380.9 602.5,380.9 604.5,381.0 606.5,381.0 608.5,381.0 610.5,381.0 612.5,381.0 614.5,381.0 616.5,381.0 618.5,381.0 620.5,381.1 622.5,381.1 624.5,381.1 626.5,381.1 628.5,381.1 630.5,381.1 632.5,381.1 634.5,381.1 636.5,381.1 638.5,381.2 640.5,381.2 642.5,381.2 644.5,381.3 646.5,381.3 648.5,381.4 650.5,381.5 652.5,381.5 654.5,381.6 656.5,381.7 658.5,381.8 660.5,381.9 662.5,382.0 664.5,382.1 666.5,382.2 668.5,382.3 670.5,382.5 672.5,382.6 674.5,382.8 676.5,383.0 678.5,383.2 680.5,383.5 682.5,383.8 684.5,384.1 686.5,384.5 688.5,385.0 690.5,385.5 692.5,386.0 694.5,386.5 696.5,387.1 698.5,387.7 700.5,388.4"/>
<polyline stroke="#0000ff" stroke-width="9" points="698.5,387.7 700.5,388.4 702.5,389.1 704.5,389.9 706.5,390.8 708.5,391.7 710.5,392.7 712.5,393.8 714.5,394.8 716.5,395.9 718.5,397.1 720.5,398.3 722.5,399.5 724.5,400.7 726.5,402.0 728.5,403.3 730.5,404.7 732.5,406.1 734.5,407.5 736.5,408.9 738.5,410.4 740.5,411.8 742.5,413.2 744.5,414.6 746.5,416.0 748.5,417.3 750.5,418.6 752.5,419.9 754.5,421.2 756.5,422.4 758.5,423.6 760.5,424.8 762.5,425.9 764.5,427.0 766.5,428.1 768.5,429.1 770.5,430.0 772.5,431.0 774.5,431.8 776.5,432.7 778.5,433.5 780.5,434.2 782.5,435.0 784.5,435.7 786.5,436.5 788.5,437.2 790.5,437.9 792.5,438.5 794.5,439.2 796.5,439.8 798.5,440.4 800.5,441.1 802.5,441.7 804.5,442.2 806.5,442.8 808.5,443.4 810.5,443.9 812.5,444.4 814.5,445.0 816.5,445.4 818.5,445.9 820.5,446.4 822.5,446.8 824.5,447.2 826.5,447.6 828.5,448.0 830.5,448.4 832.5,448.7 834.5,449.0 836.5,449.3 838.5,449.5 840.5,449.7 842.5,449.9 844.5,450.1 846.5,450.3 848.5,450.4 850.5,450.6 852.5,450.7 854.5,450.8 856.5,450.9 858.5,450.9 860.5,451.0 862.5,451.0 864.5,451.1 866.5,451.1 868.5,451.1 870.5,451.1 872.5,451.0 874.5,451.0 876.5,450.9 878.5,450.8 880.5,450.7 882.5,450.5 884.5,450.4 886.5,450.2 888.5,450.0 890.5,449.9 892.5,449.7 894.5,449.5 896.5,449.3 898.5,449.1 900.5,448.9 902.5,448.7 904.5,448.5 906.5,448.3 908.5,448.1 910.5,447.9 912.5,447.7 914.5,447.5 916.5,447.3 918.5,447.1 920.5,446.9 922.5,446.7 924.5,446.5 926.5,446.3 928.5,446.1 930.5,445.8 932.5,445.6 934.5,445.4 936.5,445.1 938.5,444.9 940.5,444.6 942.5,444.4 944.5,444.1 946.5,443.9 948.5,443.6 950.5,443.2 952.5,442.9 954.5,442.6 956.5,442.3 958.5,442.0 960.5,441.7 962.5,441.5 964.5,441.2 966.5,440.9 968.5,440.6 970.5,440.3 972.5,439.9 974.5,439.6 976.5,439.3 978.5,439.0 980.5,438.7 982.5,438.4 984.5,438.1 986.5,437.8 988.5,437.5 990.5,437.2 992.5,436.9 994.5,436.5 996.5,436.2 998.5,435.9 1000.5,435.6 1002.5,435.3 1004.5,435.0 1006.5,434.8 1008.5,434.5 1010.5,434.2 1012.5,433.9 1014.5,433.6 1016.5,433.4 1018.5,433.1 1020.5,432.9 1022.5,432.6 1024.5,432.3 1026.5,432.1 1028.5,431.9 1030.5,431.6 1032.5,431.4 1034.5,431.1 1036.5,430.9 1038.5,430.7 1040.5,430.4 1042.5,430.2 1044.5,429.9 1046.5,429.7 1048.5,429.4 1050.5,429.2 1052.5,428.9 1054.5,428.6 1056.5,428.4 1058.5,428.1 1060.5,427.8 1062.5,427.5 1064.5,427.2 1066.5,426.9 1068.5,426.6 1070.5,426.3 1072.5,426.0 1074.5,425.7 1076.5,425.3 1078.5,425.0 1080.5,424.7 1082.5,424.4 1084.5,424.0 1086.5,423.7 1088.5,423.4 1090.5,423.1 1092.5,422.7 1094.5,422.4 1096.5,422.1 1098.5,421.8 1100.5,421.4 1102.5,421.1 1104.5,420.8 1106.5,420.5 1108.5,420.2 1110.5,419.9 1112.5,419.6 1114.5,419.3 1116.5,418.9 1118.5,418.6 1120.5,418.3 1122.5,418.0 1124.5,417.7 1126.5,417.4 1128.5,417.1 1130.5,416.8 1132.5,416.5 1134.5,416.2 1136.5,415.8 1138.5,415.5 1140.5,415.2 1142.5,414.9 1144.5,414.6 1146.5,414.3 1148.5,414.0 1150.5,413.7 1152.5,413.4 1154.5,413.1 1156.5,412.8 1158.5,412.5 1160.5,412.2 1162.5,412.0 1164.5,411.7 1166.5,411.4 1168.5,411.2 1170.5,410.9 1172.5,410.7 1174.5,410.5 1176.5,410.3 1178.5,410.0 1180.5,409.8 1182.5,409.6 1184.5,409.4 1186.5,409.2 1188.5,409.0 1190.5,408.8 1192.5,408.5 1194.5,408.3 1196.5,408.1 1198.5,407.9 1200.5,407.6 1202.5,407.4 1204.5,407.1 1206.5,406.9 1208.5,406.6 1210.5,406.3 1212.5,406.1 1214.5,405.8 1216.5,405.5 1218.5,405.2 1220.5,404.9 1222.5,404.5 1224.5,404.2 1226.5,403.9 1228.5,403.6 1230.5,403.2 1232.5,402.9 1234.5,402.6 1236.5,402.2 1238.5,401.9 1240.5,401.6 1242.5,401.3 1244.5,400.9 1246.5,400.6 1248.5,400.3 1250.5,399.9 1252.5,399.6 1254.5,399.3 1256.5,399.0 1258.5,398.7 1260.5,398.4 1262.5,398.1 1264.5,397.8 1266.5,397.5 1268.5,397.2 1270.5,396.9 1272.5,396.7 1274.5,396.4 1276.5,396.1 1278.5,395.9 1280.5,395.6 1282.5,395.4 1284.5,395.1 1286.5,394.9 1288.5,394.6 1290.5,394.4 1292.5,394.2 1294.5,393.9 1296.5,393.7 1298.5,393.5 1300.5,393.2 1302.5,393.0 1304.5,392.8 1306.5,392.6 1308.5,392.3 1310.5,392.1 1312.5,391.9 1314.5,391.7 1316.5,391.4 1318.5,391.2 1320.5,391.0 1322.5,390.8 1324.5,390.6 1326.5,390.4 1328.5,390.2 1330.5,389.9 1332.5,389.7 1334.5,389.5 1336.5,389.3 1338.5,389.1 1340.5,388.9 1342.5,388.8 1344.5,388.6 1346.5,388.4 1348.5,388.2 1350.5,388.0 1352.5,387.9 1354.5,387.7 1356.5,387.5 1358.5,387.4 1360.5,387.2 1362.5,387.0 1364.5,386.9 1366.5,386.7 1368.5,386.6 1370.5,386.4 1372.5,386.3 1374.5,386.1 1376.5,386.0 1378.5,385.8 1380.5,385.7 1382.5,385.5 1384.5,385.4 1386.5,385.3 1388.5,385.1 1390.5,385.0 1392.5,384.8 1394.5,384.7 1396.5,384.5 1398.5,384.4 1400.5,384.3 1402.5,384.1 1404.5,384.0 1406.5,383.8 1408.5,383.7 1410.5,383.5 1412.5,383.4 1414.5,383.3 1416.5,383.1 1418.5,383.0 1420.5,382.8 1422.5,382.7 1424.5,382.5 1426.5,382.4 1428.5,382.3 1430.5,382.1 1432.5,382.0 1434.5,381.8 1436.5,381.7 1438.5,381.5 1440.5,381.4 1442.5,381.3 1446.0,381.1"/>
</g>
<g stroke="#000" stroke-width="3" stroke-dasharray="14 10.5">
<line x1="684.5" y1="372" x2="684.5" y2="1046"/>
<line x1="1224.5" y1="371" x2="1224.5" y2="1046"/>
</g>
<g stroke="#000" stroke-width="3">
<line x1="233.5" y1="531" x2="269.5" y2="555"/>
<line x1="399" y1="950.5" x2="392.8" y2="976"/>
</g>
<rect x="562.5" y="110" width="840.5" height="133" fill="none" stroke="#000" stroke-width="2.5"/>
<g stroke="none">
<rect x="565" y="141" width="122" height="8" rx="3" fill="#000"/>
<rect x="857" y="141" width="122.5" height="8" rx="3" fill="#ff0000"/>
<rect x="1132" y="141" width="122" height="8" rx="3" fill="#00d28a"/>
<rect x="723" y="204" width="123" height="9" rx="3" fill="#0000ff"/>
<rect x="1027" y="204" width="123" height="9" rx="3" fill="#d3d3d3"/>
</g>
<text x="697.5" y="163" font-size="53">PANI</text>
<text x="990" y="163" font-size="53">PG1</text>
<text x="1264" y="163" font-size="53">PG5</text>
<text x="856" y="226" font-size="53">PG10</text>
<text x="1160" y="226" font-size="53">GO</text>
<text transform="translate(148.8,1065.7) scale(1,1.07)" font-size="43" text-anchor="end">0</text>
<text transform="translate(148.8,775.2) scale(1,1.07)" font-size="43" text-anchor="end">1</text>
<text transform="translate(148.8,484.7) scale(1,1.07)" font-size="43" text-anchor="end">2</text>
<text transform="translate(148.8,194.2) scale(1,1.07)" font-size="43" text-anchor="end">3</text>
<text transform="translate(356.0,1120) scale(1,1.07)" font-size="43" text-anchor="middle">300</text>
<text transform="translate(573.8,1120) scale(1,1.07)" font-size="43" text-anchor="middle">400</text>
<text transform="translate(791.6,1120) scale(1,1.07)" font-size="43" text-anchor="middle">500</text>
<text transform="translate(1009.4,1120) scale(1,1.07)" font-size="43" text-anchor="middle">600</text>
<text transform="translate(1227.2,1120) scale(1,1.07)" font-size="43" text-anchor="middle">700</text>
<text transform="translate(1445.0,1120) scale(1,1.07)" font-size="43" text-anchor="middle">800</text>
<text x="651" y="335" font-size="36">450</text>
<text x="1196" y="341" font-size="36">700</text>
<text x="278" y="584" font-size="36">235</text>
<text x="364" y="944" font-size="36">310</text>
<text transform="translate(598,1208) scale(1,1.03)" x="0" y="0" font-size="52.6">Wavelength<tspan dx="2.5"> (nm</tspan><tspan font-size="37" dx="0" dy="-21.5">-1</tspan><tspan dx="-0.5" dy="21.5">)</tspan></text>
<text transform="translate(65,731) rotate(-90) scale(1,1.03)" x="0" y="0" font-size="53">Absorbance (a. u.)</text>
</svg></body></html>
